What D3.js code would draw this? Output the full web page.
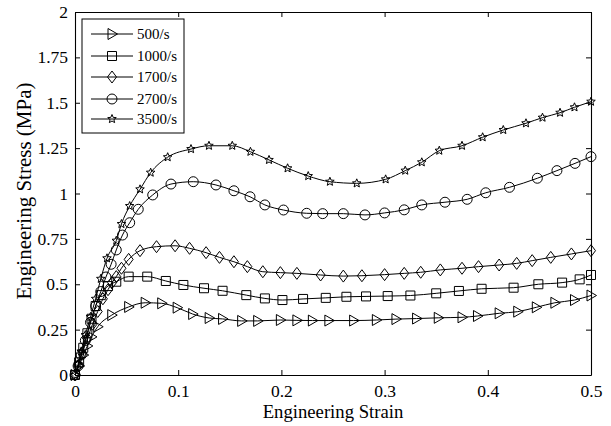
<!DOCTYPE html>
<html><head><meta charset="utf-8">
<script src="https://cdn.jsdelivr.net/npm/d3@7"></script>
<style>
body{margin:0;background:#fff;}
svg{display:block;}
</style></head>
<body>
<svg id="c" width="611" height="426"></svg>
<script>
const seriesNames = ["500/s","1000/s","1700/s","2700/s","3500/s"];
const markerTypes = ["triangle","square","diamond","circle","star"];
const xTicks = [0,0.1,0.2,0.3,0.4,0.5];
const yTicks = [0,0.25,0.5,0.75,1,1.25,1.5,1.75,2];

const strain500 = [0,0.004,0.008,0.012,0.016,0.022,0.0356,0.052,0.068,0.084,0.099,0.114,0.130,0.143,0.1615,0.177,0.199,0.215,0.230,0.246,0.270,0.292,0.311,0.331,0.352,0.375,0.390,0.411,0.429,0.447,0.465,0.484,0.5];
const stress500 = [0,0.05,0.11,0.16,0.21,0.266,0.33,0.375,0.398,0.395,0.371,0.336,0.314,0.309,0.298,0.298,0.303,0.301,0.30,0.30,0.30,0.303,0.308,0.311,0.315,0.318,0.325,0.34,0.349,0.373,0.398,0.413,0.438];

const strain1000 = [0,0.004,0.008,0.012,0.016,0.020,0.025,0.032,0.040,0.052,0.070,0.088,0.105,0.125,0.143,0.166,0.184,0.201,0.221,0.243,0.263,0.282,0.303,0.325,0.350,0.372,0.394,0.425,0.449,0.472,0.489,0.5];
const stress1000 = [0,0.07,0.15,0.23,0.31,0.38,0.44,0.49,0.514,0.542,0.542,0.518,0.496,0.478,0.464,0.440,0.422,0.413,0.419,0.425,0.431,0.433,0.435,0.438,0.45,0.463,0.475,0.481,0.50,0.509,0.527,0.551];

const strain1700 = [0,0.003,0.007,0.012,0.017,0.022,0.027,0.032,0.036,0.040,0.045,0.052,0.063,0.079,0.097,0.111,0.127,0.140,0.154,0.167,0.182,0.199,0.215,0.238,0.260,0.278,0.300,0.319,0.335,0.354,0.375,0.391,0.411,0.428,0.443,0.461,0.481,0.5];
const stress1700 = [0,0.05,0.12,0.20,0.28,0.35,0.42,0.47,0.51,0.542,0.588,0.637,0.685,0.707,0.712,0.698,0.674,0.648,0.624,0.597,0.569,0.564,0.56,0.551,0.545,0.547,0.553,0.56,0.566,0.579,0.588,0.597,0.606,0.615,0.63,0.648,0.667,0.685];

const strain2700 = [0,0.003,0.006,0.010,0.015,0.020,0.025,0.030,0.035,0.040,0.046,0.053,0.0613,0.0753,0.093,0.1146,0.1366,0.154,0.1696,0.184,0.202,0.2245,0.240,0.260,0.281,0.300,0.319,0.336,0.3585,0.380,0.398,0.421,0.448,0.467,0.4845,0.5];
const stress2700 = [0,0.05,0.11,0.19,0.29,0.38,0.46,0.54,0.61,0.689,0.771,0.839,0.913,0.992,1.052,1.065,1.047,1.015,0.982,0.937,0.909,0.891,0.889,0.889,0.882,0.893,0.910,0.937,0.952,0.968,1.004,1.034,1.084,1.126,1.166,1.203];

const strain3500 = [0,0.003,0.006,0.010,0.015,0.020,0.025,0.031,0.040,0.045,0.053,0.063,0.0733,0.0898,0.1124,0.1298,0.1524,0.170,0.188,0.206,0.226,0.247,0.273,0.301,0.320,0.336,0.353,0.375,0.395,0.415,0.437,0.453,0.470,0.484,0.5];
const stress3500 = [0,0.06,0.13,0.22,0.32,0.42,0.53,0.643,0.74,0.832,0.931,1.023,1.115,1.20,1.245,1.263,1.263,1.23,1.185,1.139,1.096,1.065,1.056,1.078,1.126,1.172,1.236,1.263,1.31,1.35,1.387,1.418,1.445,1.475,1.506];

const strains = [strain500,strain1000,strain1700,strain2700,strain3500];
const stresses = [stress500,stress1000,stress1700,stress2700,stress3500];

const FONT = "'Liberation Serif'";
const W=611,H=426;
const m={left:75,right:20,top:12,bottom:51};
const x=d3.scaleLinear().domain([0,0.5]).range([m.left,W-m.right]);
const y=d3.scaleLinear().domain([0,2]).range([H-m.bottom,m.top]);
const svg=d3.select("#c");

const tfs=17.5;
const gx=svg.append("g").attr("transform",`translate(0,${y(0)})`)
  .call(d3.axisBottom(x).tickValues(xTicks).tickFormat(d3.format("")).tickSizeInner(-5).tickSizeOuter(0).tickPadding(10));
const gy=svg.append("g").attr("transform",`translate(${x(0)},0)`)
  .call(d3.axisLeft(y).tickValues(yTicks).tickFormat(d3.format("")).tickSizeInner(-5).tickSizeOuter(0).tickPadding(7));
const gt=svg.append("g").attr("transform",`translate(0,${y(2)})`)
  .call(d3.axisTop(x).tickValues(xTicks).tickFormat("").tickSizeInner(-5).tickSizeOuter(0));
const gr=svg.append("g").attr("transform",`translate(${x(0.5)},0)`)
  .call(d3.axisRight(y).tickValues(yTicks).tickFormat("").tickSizeInner(-5).tickSizeOuter(0));
[gx,gy,gt,gr].forEach(g=>{
  g.attr("font-family",null).attr("font-size",null);
  g.selectAll("path.domain").attr("stroke","#000").attr("stroke-width",1.1);
  g.selectAll(".tick line").attr("stroke","#000");
  g.selectAll("text").style("font-family",FONT).style("font-size",tfs+"px").attr("fill","#000");
});

svg.append("text").attr("x",(x(0)+x(0.5))/2).attr("y",417.5).attr("text-anchor","middle")
  .style("font-family",FONT).style("font-size","18.7px").text("Engineering Strain");
svg.append("text").attr("transform",`translate(31,${(82+300)/2}) rotate(-90)`).attr("text-anchor","middle")
  .style("font-family",FONT).style("font-size","21px").text("Engineering Stress (MPa)");

function markerPath(type){
  switch(type){
    case "triangle": return "M-4,-5.5L5.5,0L-4,5.5Z";
    case "square": return "M-4.5,-4.5H4.5V4.5H-4.5Z";
    case "diamond": return "M0,-6L4.5,0L0,6L-4.5,0Z";
    case "circle": return d3.symbol(d3.symbolCircle,78)();
    case "star": {
      let p=[];for(let i=0;i<10;i++){const r=i%2?2:4.5;const a=-Math.PI/2+i*Math.PI/5;p.push([r*Math.cos(a),r*Math.sin(a)]);}
      return "M"+p.map(q=>q.join(",")).join("L")+"Z";
    }
  }
}

const line=d3.line().x(d=>x(d[0])).y(d=>y(d[1])).curve(d3.curveMonotoneX);
seriesNames.forEach((name,i)=>{
  const pts=strains[i].map((s,j)=>[s,stresses[i][j]]);
  svg.append("path").datum(pts).attr("d",line).attr("fill","none").attr("stroke","#000").attr("stroke-width",1);
  svg.append("g").selectAll("path").data(pts).join("path")
    .attr("transform",d=>`translate(${x(d[0])},${y(d[1])})`)
    .attr("d",markerPath(markerTypes[i])).attr("fill","none").attr("stroke","#000").attr("stroke-width",1);
});

// legend
const lg=svg.append("g");
lg.append("rect").attr("x",82).attr("y",19).attr("width",102).attr("height",114).attr("fill","#fff").attr("stroke","#000").attr("stroke-width",1);
const ly=[34,56,77,99,119];
seriesNames.forEach((name,i)=>{
  lg.append("line").attr("x1",91).attr("x2",133).attr("y1",ly[i]).attr("y2",ly[i]).attr("stroke","#000");
  lg.append("path").attr("transform",`translate(112,${ly[i]})`).attr("d",markerPath(markerTypes[i])).attr("fill","none").attr("stroke","#000");
  lg.append("text").attr("x",137).attr("y",ly[i]+5).style("font-family",FONT).style("font-size","15px").text(name);
});
</script>
</body></html>
